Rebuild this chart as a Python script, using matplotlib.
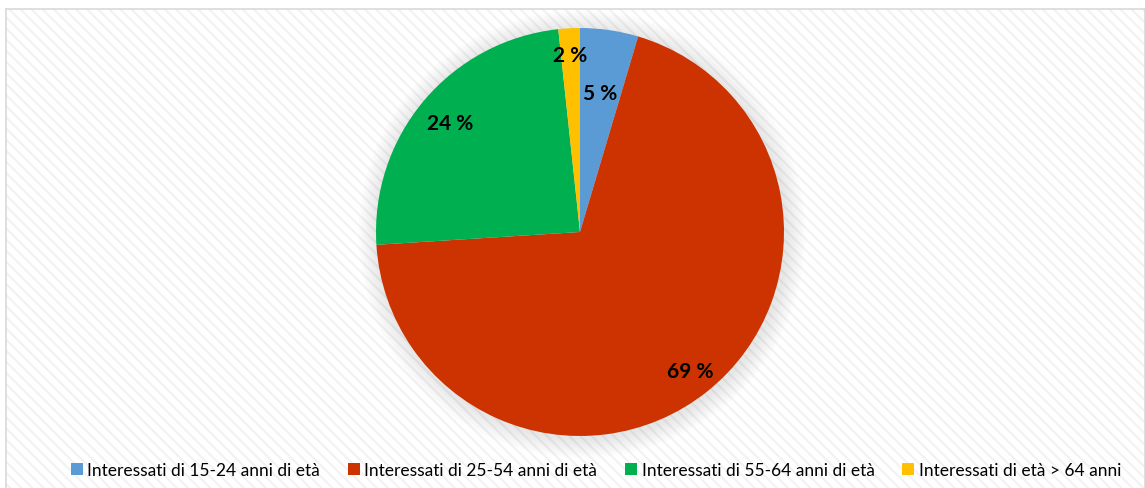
import matplotlib
matplotlib.use("Agg")
import matplotlib.pyplot as plt
import matplotlib.patches as mpatches
import numpy as np

categories = ["Interessati di 15-24 anni di età", "Interessati di 25-54 anni di età",
              "Interessati di 55-64 anni di età", "Interessati di età > 64 anni"]
values = [4.6, 69.4, 24.3, 1.7]
colors = ["#5B9BD5", "#CC3300", "#00B050", "#FFC000"]
label_dist = [0.69, 0.87, 0.83, 0.87]

plt.rcParams['font.family'] = ['Lato', 'DejaVu Sans']
plt.rcParams['hatch.linewidth'] = 1.5

W, H = 1145, 489
fig = plt.figure(figsize=(W / 100, H / 100), dpi=100)
fig.patch.set_facecolor("white")

# background chart area with faint diagonal hatch
bg = fig.add_axes([6 / W, 0, 1 - 6 / W, (H - 10) / H])
bg.set_xticks([]); bg.set_yticks([])
bg.set_facecolor("white")
bg.add_patch(mpatches.Rectangle((0, 0), 1, 1, transform=bg.transAxes,
                                facecolor="none", edgecolor="#F2F2F2",
                                hatch="\\\\\\", linewidth=0))
for s in bg.spines.values():
    s.set_color("#D9D9D9"); s.set_linewidth(1.2)
bg.spines['bottom'].set_visible(False)

# pie axes
cx, cy, r = 580, 233, 204
ext = 1.15
left = (cx - r * ext) / W
bottom = (H - cy - r * ext) / H
ax = fig.add_axes([left, bottom, 2 * r * ext / W, 2 * r * ext / H])

# soft shadow
for i in range(8):
    ax.add_patch(mpatches.Circle((0.01, -0.01), 1.0 + 0.012 * (8 - i),
                                 facecolor="black", alpha=0.012, linewidth=0))

wedges, _ = ax.pie(values, colors=colors, startangle=90, counterclock=False,
                   radius=1.0, wedgeprops=dict(linewidth=0))
ax.set_xlim(-ext, ext); ax.set_ylim(-ext, ext)
ax.set_aspect("equal")
ax.axis("off")
for w, v, d in zip(wedges, values, label_dist):
    ang = np.deg2rad((w.theta1 + w.theta2) / 2)
    ax.text(d * np.cos(ang), d * np.sin(ang), f"{v:.0f} %", ha="center", va="center",
            fontsize=15, fontweight="bold", color="black")

handles = [mpatches.Patch(facecolor=c, edgecolor="none", label=l) for c, l in zip(colors, categories)]
fig.legend(handles=handles, loc="center", bbox_to_anchor=(596 / W, (H - 471) / H), ncol=4,
           frameon=False, fontsize=12.5, handlelength=0.7, handleheight=0.7,
           handletextpad=0.25, columnspacing=1.6)

fig.savefig("out.png", dpi=100)
